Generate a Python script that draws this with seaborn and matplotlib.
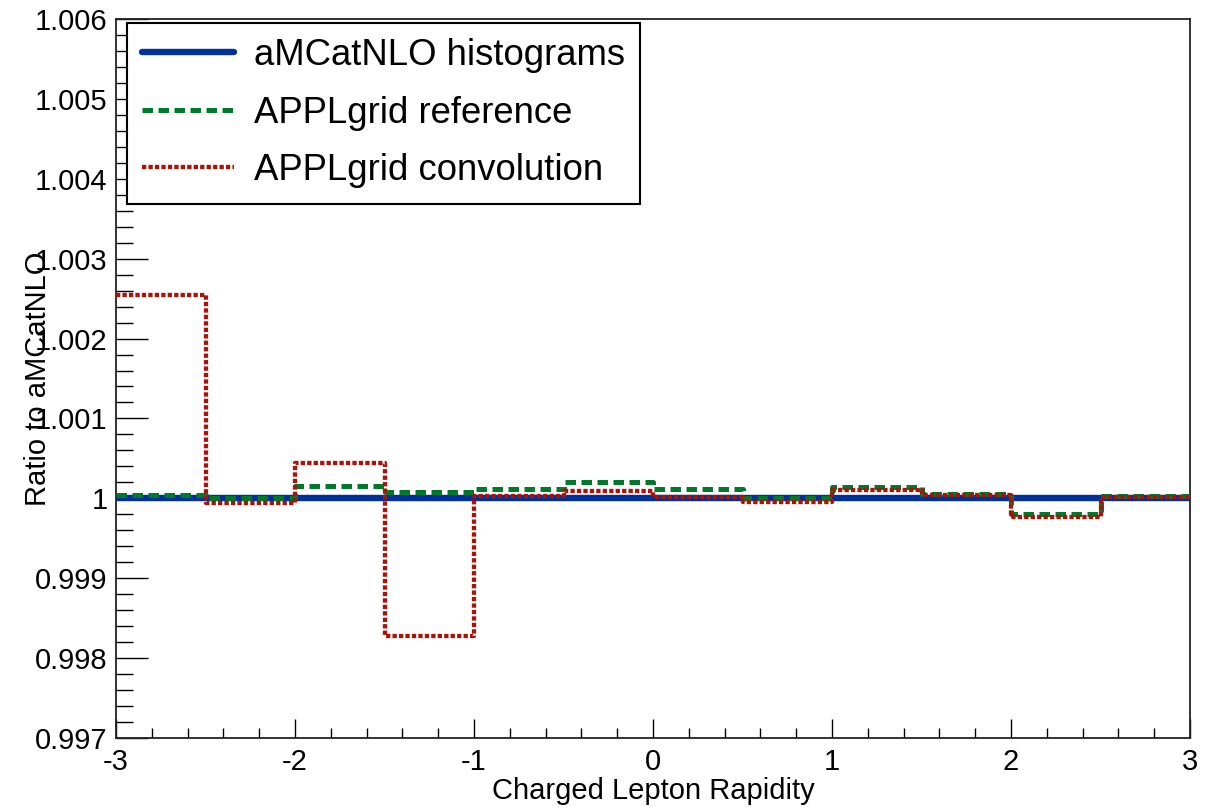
import numpy as np
import pandas as pd
import matplotlib
matplotlib.use("Agg")
import matplotlib.pyplot as plt
from matplotlib.ticker import MultipleLocator, FuncFormatter
import seaborn as sns

# ---- data ----
bin_edges = [-3.0, -2.5, -2.0, -1.5, -1.0, -0.5, 0.0, 0.5, 1.0, 1.5, 2.0, 2.5, 3.0]
amcatnlo = [1.0, 1.0, 1.0, 1.0, 1.0, 1.0, 1.0, 1.0, 1.0, 1.0, 1.0, 1.0]
appl_reference = [1.00004, 1.00000, 1.00015, 1.00008, 1.00012, 1.00020,
                  1.00012, 1.00000, 1.00014, 1.00006, 0.99980, 1.00003]
appl_convolution = [1.00254, 0.99994, 1.00044, 0.99828, 1.00003, 1.00009,
                    1.00002, 0.99996, 1.00010, 1.00004, 0.99977, 1.00002]
series_names = ["aMCatNLO histograms", "APPLgrid reference", "APPLgrid convolution"]
x_label = "Charged Lepton Rapidity"
y_label = "Ratio to aMCatNLO"

sns.set_style("ticks")
plt.rcParams["font.family"] = ["Liberation Sans", "DejaVu Sans"]
plt.rcParams.update({"text.color": "black", "axes.labelcolor": "black",
                     "xtick.color": "black", "ytick.color": "black"})

fig = plt.figure(figsize=(12.14, 8.07), dpi=100)
ax = fig.add_axes([116 / 1214, 1 - 738 / 807, (1190 - 116) / 1214, (738 - 19) / 807])

styles = [
    dict(color="#00309c", lw=4.6, linestyle="-"),
    dict(color="#00792a", lw=3.6, linestyle=(0, (2.1, 1.1))),
    dict(color="#a8140a", lw=3.1, linestyle=(0, (1.0, 0.5))),
]
all_series = [amcatnlo, appl_reference, appl_convolution]
for name, vals, st in zip(series_names, all_series, styles):
    df = pd.DataFrame({"x": bin_edges, "y": list(vals) + [vals[-1]]})
    sns.lineplot(data=df, x="x", y="y", ax=ax, drawstyle="steps-post",
                 label=name, zorder=3 if name != series_names[0] else 2, **st)

ax.set_xlim(-3, 3)
ax.set_ylim(0.997, 1.006)

ax.xaxis.set_major_locator(MultipleLocator(1))
ax.xaxis.set_minor_locator(MultipleLocator(0.2))
ax.yaxis.set_major_locator(MultipleLocator(0.001))
ax.yaxis.set_minor_locator(MultipleLocator(0.0002))
ax.yaxis.set_major_formatter(FuncFormatter(lambda v, p: "%g" % round(v, 6)))
ax.xaxis.set_major_formatter(FuncFormatter(lambda v, p: "%g" % round(v, 6)))

ax.tick_params(axis="x", which="major", direction="in", length=14, width=1.0,
               labelsize=21, pad=7, top=False)
ax.tick_params(axis="x", which="minor", direction="in", length=7, width=1.0, top=False)
ax.tick_params(axis="y", which="major", direction="in", length=23, width=1.0,
               labelsize=21, pad=6, right=False)
ax.tick_params(axis="y", which="minor", direction="in", length=12, width=1.0, right=False)

for s in ax.spines.values():
    s.set_visible(True)
    s.set_linewidth(1.3)
    s.set_color("#222222")

ax.set_xlabel(x_label, fontsize=21, labelpad=1)
ax.set_ylabel(y_label, fontsize=21)
ax.yaxis.set_label_coords(-0.06, 0.5)

leg = ax.legend(loc="upper left", bbox_to_anchor=(0.0102, 0.995), fontsize=26.3,
                frameon=True, fancybox=False, shadow=False, framealpha=1,
                edgecolor="black", handlelength=2.5, handletextpad=0.55,
                labelspacing=0.62, borderpad=0.42, borderaxespad=0)
leg.get_frame().set_linewidth(1.5)

fig.savefig("out.png", dpi=100, facecolor="white")
